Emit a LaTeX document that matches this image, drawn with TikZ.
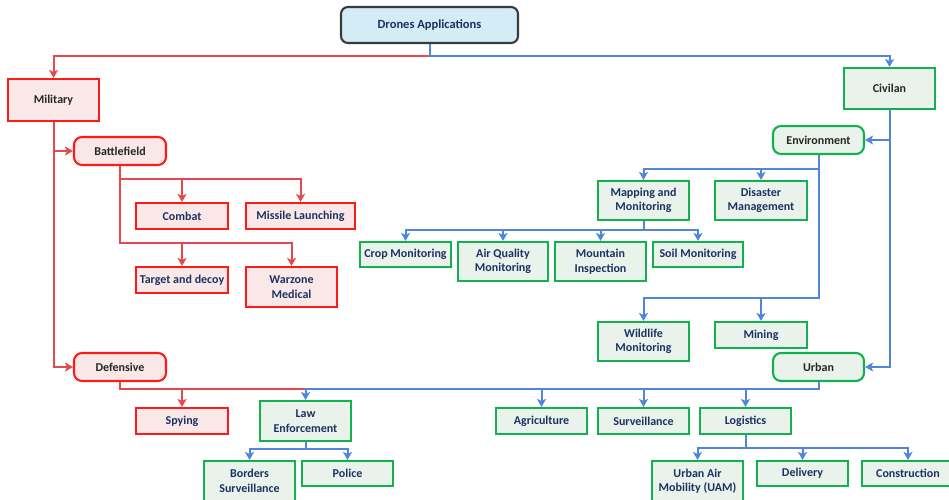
\documentclass[tikz,border=0pt]{standalone}
\usepackage{fontspec}
\setmainfont{Carlito}
\usetikzlibrary{arrows.meta}

\definecolor{milred}{HTML}{FF1A1A}
\definecolor{milfill}{HTML}{FAE8E8}
\definecolor{civgreen}{HTML}{13B04F}
\definecolor{civfill}{HTML}{E9F3EB}
\definecolor{redwire}{HTML}{E5484D}
\definecolor{bluewire}{HTML}{4F86DC}
\definecolor{navytext}{HTML}{1B3263}
\definecolor{greytext}{HTML}{262626}
\definecolor{rootfill}{HTML}{D3ECF6}
\definecolor{rootline}{HTML}{3A3A3A}

\begin{document}
\begin{tikzpicture}[x=1pt,y=-1pt,
  base/.style={draw, line width=2.1pt, inner sep=0pt, align=center,
    font=\fontsize{12}{14.5}\selectfont\bfseries, text=navytext},
  sz/.style 2 args={minimum width=#1pt, minimum height=#2pt},
  milbox/.style={base, draw=milred, fill=milfill},
  civbox/.style={base, draw=civgreen, fill=civfill},
  category/.style={text=greytext},
  pill/.style={rounded corners=8pt, text=greytext},
  tip/.style={-{Stealth[length=8pt,width=9pt,inset=2pt]}},
  redwire/.style={draw=redwire, line width=2pt, line join=miter},
  bluewire/.style={draw=bluewire, line width=2pt, line join=miter},
]
\useasboundingbox (0,0) rectangle (949,499);

% root
\node[base, sz={177}{36}, draw=rootline, fill=rootfill, rounded corners=7pt,
  font=\fontsize{12.5}{15}\selectfont\bfseries] (apps) at (429.5,25) {Drones Applications};

% military branch
\node[milbox, category, sz={91}{42}] (mil) at (53.5,100) {Military};
\node[milbox, pill, sz={92}{28}] (bat) at (120,151) {Battlefield};
\node[milbox, sz={92}{26}] (combat) at (182,216) {Combat};
\node[milbox, sz={109}{26}] (missile) at (300.5,216) {Missile Launching};
\node[milbox, sz={92}{26}] (target) at (182,280) {Target and decoy};
\node[milbox, sz={91}{40}] (warzone) at (291.5,287) {Warzone\\Medical};
\node[milbox, pill, sz={92}{28}] (def) at (120,367) {Defensive};
\node[milbox, sz={92}{26}] (spying) at (182,421) {Spying};

% civilian branch
\node[civbox, category, sz={91}{41}] (civ) at (889.5,88.5) {Civilan};
\node[civbox, pill, sz={91}{28}] (env) at (818.5,140) {Environment};
\node[civbox, sz={91}{39}] (mapping) at (643.5,200.5) {Mapping and\\Monitoring};
\node[civbox, sz={92}{39}] (disaster) at (761,200.5) {Disaster\\Management};
\node[civbox, sz={91}{25}] (crop) at (405.5,254.5) {Crop Monitoring};
\node[civbox, sz={90}{39}] (airq) at (503,261.5) {Air Quality\\Monitoring};
\node[civbox, sz={91}{39}] (mountain) at (600.5,261.5) {Mountain\\Inspection};
\node[civbox, sz={90}{25}] (soil) at (698,254.5) {Soil Monitoring};
\node[civbox, sz={91}{39}] (wildlife) at (643.5,341.5) {Wildlife\\Monitoring};
\node[civbox, sz={92}{26}] (mining) at (761,335) {Mining};
\node[civbox, pill, sz={91}{28}] (urban) at (818.5,367) {Urban};
\node[civbox, sz={91}{40}] (law) at (305.5,421) {Law\\Enforcement};
\node[civbox, sz={91}{40}] (borders) at (249.5,481) {Borders\\Surveillance};
\node[civbox, sz={91}{25}] (police) at (347.5,473.5) {Police};
\node[civbox, sz={91}{26}] (agri) at (541.5,421) {Agriculture};
\node[civbox, sz={91}{26}] (surv) at (643.5,421) {Surveillance};
\node[civbox, sz={91}{26}] (logi) at (745.5,421) {Logistics};
\node[civbox, sz={91}{40}] (uam) at (697.5,481) {Urban Air\\Mobility (UAM)};
\node[civbox, sz={91}{25}] (delivery) at (802.5,473.5) {Delivery};
\node[civbox, sz={92}{25}] (constr) at (908,473.5) {Construction};

% red connectors
\draw[redwire, tip] (apps.south) -- (apps.south |- 0,56) -| (mil.north);
\draw[redwire, tip] (mil.south) |- (bat.west);
\draw[redwire, tip] (mil.south) |- (def.west);
\draw[redwire, tip] (bat.south) -- (bat.south |- 0,179) -| (combat.north);
\draw[redwire, tip] (bat.south) -- (bat.south |- 0,179) -| (missile.north);
\draw[redwire, tip] (bat.south) -- (bat.south |- 0,243) -| (target.north);
\draw[redwire, tip] (bat.south) -- (bat.south |- 0,243) -| (warzone.north);
\draw[redwire, tip] (def.south) -- (def.south |- 0,389) -| (spying.north);
\draw[redwire] (def.south) -- (def.south |- 0,389) -- (law.north |- 0,389);

% blue connectors
\draw[bluewire, tip] (apps.south) -- (apps.south |- 0,56) -| (civ.north);
\draw[bluewire, tip] (civ.south) |- (env.east);
\draw[bluewire, tip] (civ.south) |- (urban.east);
\draw[bluewire, tip] (env.south) -- (env.south |- 0,169) -| (mapping.north);
\draw[bluewire, tip] (env.south) -- (env.south |- 0,169) -| (disaster.north);
\draw[bluewire, tip] (env.south) -- (env.south |- 0,298) -| (wildlife.north);
\draw[bluewire, tip] (env.south) -- (env.south |- 0,298) -| (mining.north);
\foreach \leaf in {crop, airq, mountain, soil}
  \draw[bluewire, tip] (mapping.south) -- (mapping.south |- 0,230) -| (\leaf.north);
\foreach \leaf in {law, agri, surv, logi}
  \draw[bluewire, tip] (urban.south) -- (urban.south |- 0,389) -| (\leaf.north);
\foreach \leaf in {borders, police}
  \draw[bluewire, tip] (law.south) -- (law.south |- 0,449) -| (\leaf.north);
\foreach \leaf in {uam, delivery, constr}
  \draw[bluewire, tip] (logi.south) -- (logi.south |- 0,448) -| (\leaf.north);
\end{tikzpicture}
\end{document}
